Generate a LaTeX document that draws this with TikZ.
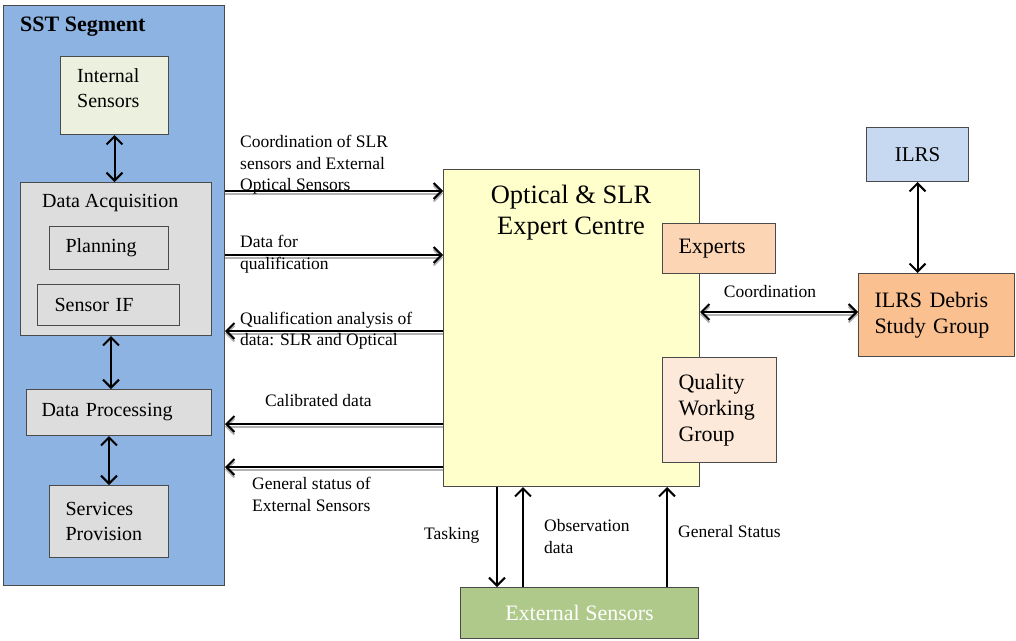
\documentclass[tikz,border=0pt]{standalone}
\usepackage{fontspec}
\setmainfont{Liberation Serif}
\usetikzlibrary{arrows.meta}
\definecolor{sstblue}{HTML}{8DB3E2}
\definecolor{isgreen}{HTML}{EBF1DE}
\definecolor{grayf}{HTML}{DDDDDD}
\definecolor{ecyellow}{HTML}{FFFFCC}
\definecolor{expc}{HTML}{FCD5B4}
\definecolor{qwgc}{HTML}{FDE9D9}
\definecolor{ilrsc}{HTML}{C6D9F1}
\definecolor{dsgc}{HTML}{FAC090}
\definecolor{esc}{HTML}{AFC98A}
\definecolor{bordc}{HTML}{4A4A4A}
\begin{document}
\begin{tikzpicture}[x=1pt,y=-1pt,
  box/.style={draw=bordc, line width=1pt, anchor=north west, inner sep=0pt},
  lbox/.style={box, align=left, inner xsep=16pt},
  fl/.style={font=\fontsize{20}{25}\selectfont},
  fr/.style={font=\fontsize{22}{26}\selectfont},
  lab/.style={font=\fontsize{17.5}{21.5}\selectfont, inner sep=0pt, align=left, anchor=west},
  tip/.tip={Straight Barb[length=8pt,width=16pt]},
  arr/.style={draw=black, line width=2pt, -tip},
  darr/.style={draw=black, line width=2pt, tip-tip},
  shad/.style={preaction={draw=black!30, line width=2pt, transform canvas={yshift=-2.5pt}}}]
\useasboundingbox (0,0) rectangle (1016,640);
% SST segment
\node[box, fill=sstblue, minimum width=221pt, minimum height=580pt] (sst) at (3,5) {};
\node[font=\bfseries\fontsize{22}{26}\selectfont, anchor=west, inner sep=0pt] (ssttitle) at (20,27) {SST Segment};
\node[box, fill=isgreen, minimum width=108pt, minimum height=78pt] (is) at (60,56) {};
\node[fl, anchor=west, inner sep=0pt, align=left] (ist) at (77,88.5) {Internal\\Sensors};
\node[box, fill=grayf, minimum width=191pt, minimum height=153pt] (da) at (20,182) {};
\node[fl, anchor=west, inner sep=0pt] (dat) at (42,203) {Data Acquisition};
\node[lbox, fill=grayf, fl, text width=87pt, minimum height=43pt] (pl) at (49,226) {Planning};
\node[lbox, fill=grayf, fl, text width=108pt, inner xsep=17pt, minimum height=41pt] (sif) at (37,284) {Sensor IF};
\node[lbox, fill=grayf, fl, text width=155pt, inner xsep=15pt, minimum height=46pt] (dp) at (26,389) {Data Processing};
\node[lbox, fill=grayf, fl, text width=87pt, minimum height=72pt] (sp) at (49,485) {Services\\Provision};
% Expert centre
\node[box, fill=ecyellow, minimum width=256pt, minimum height=317pt] (ec) at (443,169) {};
\node[font=\fontsize{26.5}{31}\selectfont, align=center, inner sep=0pt] (ect) at (571,213) {Optical \& SLR\\Expert Centre};
\node[lbox, fill=expc, fr, text width=81pt, minimum height=50pt] (exp) at (662,223) {Experts};
\node[lbox, fill=qwgc, fr, text width=82pt, minimum height=105pt] (qwg) at (662,357) {Quality\\Working\\Group};
% ILRS
\node[box, fill=ilrsc, font=\fontsize{21}{25}\selectfont, minimum width=102pt, minimum height=54pt] (ilrs) at (866,127) {ILRS};
\node[lbox, fill=dsgc, fr, text width=124pt, minimum height=83pt] (dsg) at (858,273) {ILRS Debris\\Study Group};
% External sensors
\node[box, fill=esc, text=white, fr, minimum width=238pt, minimum height=51pt] (es) at (460,587) {External Sensors};
% connectors
\draw[darr] (is.south) -- (is.south |- da.north);
\draw[darr] (da.south -| 111,0) -- (dp.north -| 111,0);
\draw[darr] (sp.north) -- (sp.north |- dp.south);
\draw[darr] (ilrs.south) -- (ilrs.south |- dsg.north);
\draw[arr, shad] (sst.east |- 0,191) -- (ec.west |- 0,191);
\draw[arr, shad] (sst.east |- 0,255) -- (ec.west |- 0,255);
\draw[arr, shad] (ec.west |- 0,331) -- (sst.east |- 0,331);
\draw[arr, shad] (ec.west |- 0,424) -- (sst.east |- 0,424);
\draw[arr, shad] (ec.west |- 0,467) -- (sst.east |- 0,467);
\draw[darr, shad] (ec.east |- 0,312) -- (dsg.west |- 0,312);
\draw[arr] (ec.south -| 497,0) -- (es.north -| 497,0);
\draw[arr] (es.north -| 523,0) -- (ec.south -| 523,0);
\draw[arr] (es.north -| 667,0) -- (ec.south -| 667,0);
% labels
\node[lab] (l1) at (240,165) {Coordination of SLR\\sensors and External\\Optical Sensors};
\node[lab] (l2) at (240,254) {Data for\\qualification};
\node[lab] (l3) at (240,330.5) {Qualification analysis of\\data: SLR and Optical};
\node[lab] (l4) at (265,401) {Calibrated data};
\node[lab] (l5) at (252,494.5) {General status of\\External Sensors};
\node[lab, anchor=center] (l6) at (770,292) {Coordination};
\node[lab] (l7) at (424,535) {Tasking};
\node[lab] (l8) at (544,536.5) {Observation\\data};
\node[lab] (l9) at (678,532) {General Status};
\end{tikzpicture}
\end{document}
